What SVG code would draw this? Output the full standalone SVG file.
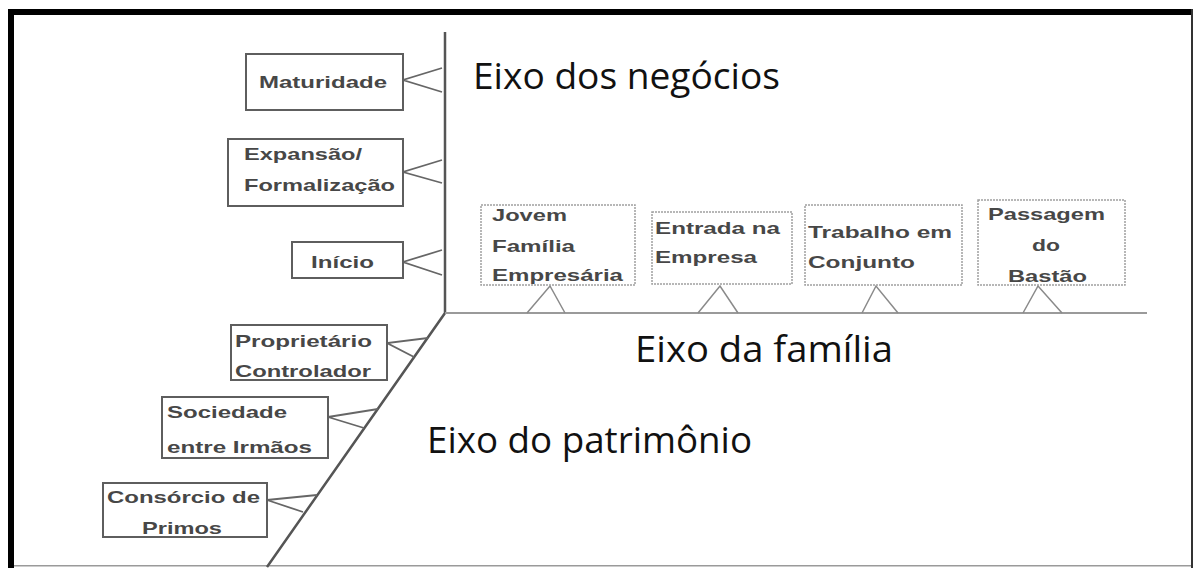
<svg xmlns="http://www.w3.org/2000/svg" width="1195" height="568" viewBox="0 0 1195 568">
<style>
.bg{fill:#ffffff}
.box{fill:#ffffff;stroke:#5e5e5e;stroke-width:2}
.dbox{fill:#ffffff;stroke:#a0a0a0;stroke-width:1.5;stroke-dasharray:2 1}
.lbl{font-family:"Liberation Sans",Arial,sans-serif;font-weight:bold;font-size:17px;fill:#474747}
.axis{fill:none;stroke:#555555;stroke-width:2.5}
.faxis{fill:none;stroke:#9a9a9a;stroke-width:1.8}
.tri{fill:none;stroke:#666666;stroke-width:1.8}
.ftri{fill:none;stroke:#8a8a8a;stroke-width:1.5}
.big{font-family:"Open Sans","Noto Sans",sans-serif;font-size:36px;fill:#111111}
</style>
<rect class="bg" x="0" y="0" width="1195" height="568"/>
<g id="frame">
<rect x="8" y="9" width="1185" height="6" fill="#000000"/>
<rect x="8" y="9" width="6" height="559" fill="#000000"/>
<rect x="1191" y="9" width="2" height="559" fill="#333333"/>
<rect x="14" y="565" width="1177" height="1.5" fill="#9a9a9a"/>
</g>
<g id="connectors">
<polyline class="axis" points="445,32 445,313 267,567"/>
<line class="faxis" x1="445" y1="313" x2="1147" y2="313"/>
<polyline class="tri" points="442,68 403,80 442,92"/>
<polyline class="tri" points="442,160 403,172 442,183"/>
<polyline class="tri" points="442,250 403,262 442,275"/>
<polyline class="tri" points="428,338 387,343 414,357"/>
<polyline class="tri" points="378,409 328,417 364,428"/>
<polyline class="tri" points="317,495 267,500 303,512"/>
<polyline class="ftri" points="527,313 550,286 565,313"/>
<polyline class="ftri" points="698,313 720,286 738,313"/>
<polyline class="ftri" points="862,313 876,286 898,313"/>
<polyline class="ftri" points="1023,313 1038,286 1062,313"/>
</g>
<g id="maturidade">
<rect class="box" x="246" y="54" width="157" height="56"/>
<text class="lbl" x="259" y="88" textLength="128" lengthAdjust="spacingAndGlyphs">Maturidade</text>
</g>
<g id="expansao">
<rect class="box" x="228" y="139" width="175" height="67"/>
<text class="lbl" x="244" y="160" textLength="118" lengthAdjust="spacingAndGlyphs">Expansão/</text>
<text class="lbl" x="244" y="191" textLength="151" lengthAdjust="spacingAndGlyphs">Formalização</text>
</g>
<g id="inicio">
<rect class="box" x="292" y="242" width="111" height="36"/>
<text class="lbl" x="311" y="268" textLength="63" lengthAdjust="spacingAndGlyphs">Início</text>
</g>
<g id="proprietario">
<rect class="box" x="231" y="325" width="156" height="55"/>
<text class="lbl" x="235" y="347" textLength="137" lengthAdjust="spacingAndGlyphs">Proprietário</text>
<text class="lbl" x="235" y="377" textLength="136" lengthAdjust="spacingAndGlyphs">Controlador</text>
</g>
<g id="sociedade">
<rect class="box" x="162" y="397" width="166" height="61"/>
<text class="lbl" x="167" y="418" textLength="120" lengthAdjust="spacingAndGlyphs">Sociedade</text>
<text class="lbl" x="167" y="453" textLength="145" lengthAdjust="spacingAndGlyphs">entre Irmãos</text>
</g>
<g id="consorcio">
<rect class="box" x="103" y="483" width="164" height="54"/>
<text class="lbl" x="107" y="503" textLength="153" lengthAdjust="spacingAndGlyphs">Consórcio de</text>
<text class="lbl" x="142" y="534" textLength="80" lengthAdjust="spacingAndGlyphs">Primos</text>
</g>
<g id="jovem">
<rect class="dbox" x="481" y="205" width="154" height="80"/>
<text class="lbl" x="492" y="221" textLength="75" lengthAdjust="spacingAndGlyphs">Jovem</text>
<text class="lbl" x="492" y="252" textLength="83" lengthAdjust="spacingAndGlyphs">Família</text>
<text class="lbl" x="492" y="281" textLength="131" lengthAdjust="spacingAndGlyphs">Empresária</text>
</g>
<g id="entrada">
<rect class="dbox" x="652" y="212" width="140" height="72"/>
<text class="lbl" x="655" y="234" textLength="125" lengthAdjust="spacingAndGlyphs">Entrada na</text>
<text class="lbl" x="655" y="263" textLength="102" lengthAdjust="spacingAndGlyphs">Empresa</text>
</g>
<g id="trabalho">
<rect class="dbox" x="805" y="205" width="157" height="80"/>
<text class="lbl" x="808" y="238" textLength="144" lengthAdjust="spacingAndGlyphs">Trabalho em</text>
<text class="lbl" x="808" y="268" textLength="107" lengthAdjust="spacingAndGlyphs">Conjunto</text>
</g>
<g id="passagem">
<rect class="dbox" x="978" y="200" width="147" height="85"/>
<text class="lbl" x="988" y="220" textLength="117" lengthAdjust="spacingAndGlyphs">Passagem</text>
<text class="lbl" x="1032" y="251" textLength="28" lengthAdjust="spacingAndGlyphs">do</text>
<text class="lbl" x="1008" y="282" textLength="79" lengthAdjust="spacingAndGlyphs">Bastão</text>
</g>
<g id="eixo-negocios">
<text class="big" x="473" y="89" textLength="307" lengthAdjust="spacingAndGlyphs">Eixo dos negócios</text>
</g>
<g id="eixo-familia">
<text class="big" x="635" y="362" textLength="258" lengthAdjust="spacingAndGlyphs">Eixo da família</text>
</g>
<g id="eixo-patrimonio">
<text class="big" x="427" y="453" textLength="325" lengthAdjust="spacingAndGlyphs">Eixo do patrimônio</text>
</g>
</svg>
